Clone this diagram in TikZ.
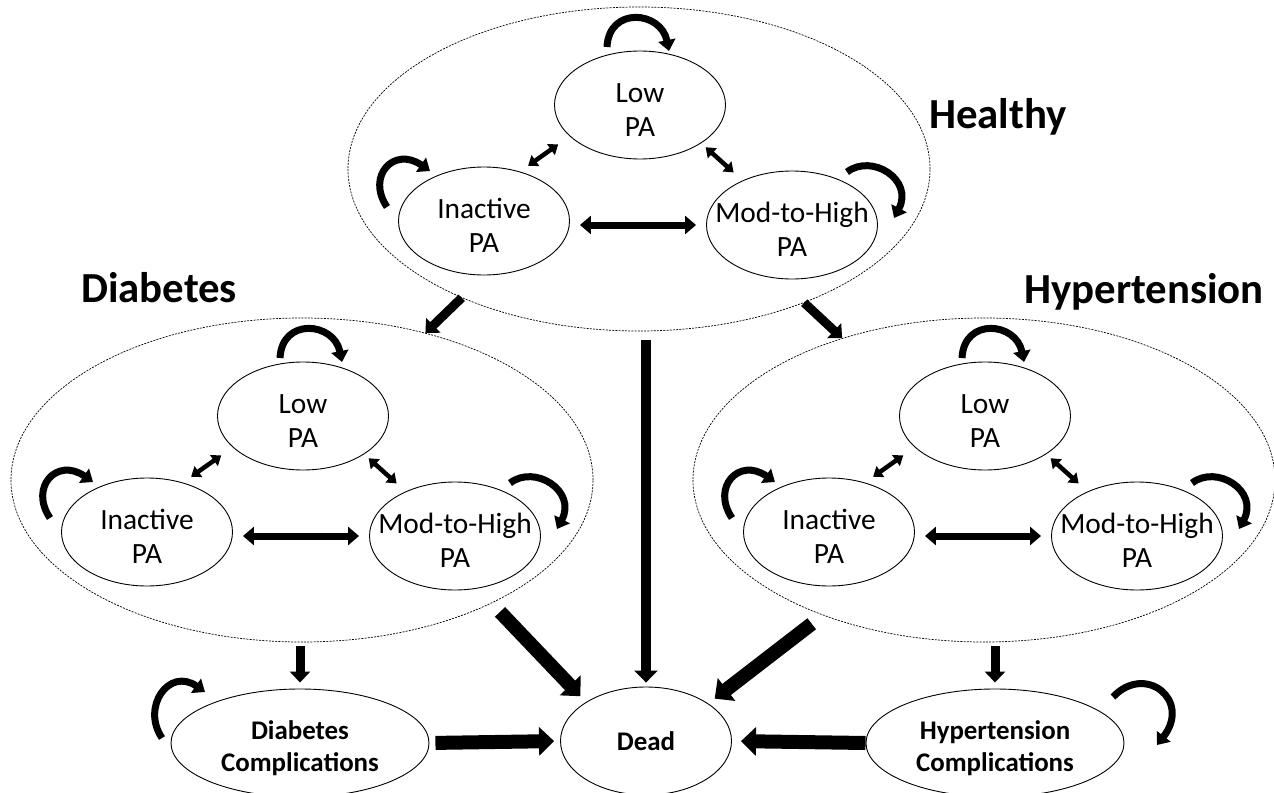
\documentclass[tikz,border=0pt]{standalone}
\usepackage{fontspec}
\setmainfont{Carlito}
\usetikzlibrary{arrows.meta,shapes.geometric}
\newcommand{\tallrow}{\rule{0pt}{29bp}}

\begin{document}
\begin{tikzpicture}[x=1bp, y=-1bp,
  pa/.style={draw, ellipse, line width=0.9bp, minimum width=171bp, minimum height=108bp, inner xsep=-20bp, inner ysep=0pt, align=center, font=\fontsize{29.5}{35}\selectfont},
  endst/.style={pa, minimum width=258bp, font=\fontsize{27}{32.5}\selectfont\bfseries},
  grp/.style={draw, ellipse, line width=0.7bp, dash pattern=on 2bp off 1.2bp, minimum width=582bp, minimum height=324bp},
  ttl/.style={font=\fontsize{43}{50}\selectfont\bfseries, anchor=base, inner sep=0pt},
  selfarr/.style={-{Triangle[width=17bp,length=11bp]}, line width=7bp},
  twoway/.style={{Triangle[width=13bp,length=9bp]}-{Triangle[width=13bp,length=9bp]}, line width=4.5bp},
  twowaybig/.style={{Triangle[width=18bp,length=11bp]}-{Triangle[width=18bp,length=11bp]}, line width=7bp},
  moveto/.style={-{Triangle[width=20bp,length=11bp]}, line width=9bp},
  todead/.style={-{Triangle[width=28bp,length=15bp]}, line width=14bp}]
  \useasboundingbox (0,0) rectangle (1274,793);

  % the three PA clusters
  \foreach \cl/\cx/\cy/\ls in {hea/640/105/-10, dia/303/416/0, hyp/985/416/0}{
    \node[grp] (\cl-box) at ({\cx-1},{\cy+64}) {};
    \node[pa] (\cl-low) at (\cx,\cy)             {\tallrow Low\\PA};
    \node[pa] (\cl-ina) at ({\cx-156},{\cy+116}) {\tallrow Inactive\\PA};
    \node[pa] (\cl-mod) at ({\cx+152},{\cy+120}) {\tallrow Mod-to-High\\PA};
    \draw[twoway, shorten <=10bp, shorten >=14bp] (\cl-ina.54) -- (\cl-low.204);
    \draw[twoway, shorten <=6bp, shorten >=12bp] (\cl-low.-32) -- (\cl-mod.138);
    \draw[twowaybig, shorten <=10bp, shorten >=10bp] (\cl-ina.east |- \cl-mod) -- (\cl-mod.west);
    \draw[selfarr] ([shift={({\ls-23},-58)}]\cl-low.center) .. controls +(2,-41) and +(-8,-40) .. ([shift={({\ls+39},-54)}]\cl-low.center);
    \draw[selfarr] ([shift={(-97,-14)}]\cl-ina.center) .. controls +(-21,-31) and +(-36,-25) .. ([shift={(-54,-50)}]\cl-ina.center);
    \draw[selfarr] ([shift={(55,-53)}]\cl-mod.center) .. controls +(25,-19) and +(20,-38) .. ([shift={(102,-7)}]\cl-mod.center);
  }

  \node[ttl] (hea-ttl) at (998,128)  {Healthy};
  \node[ttl] (dia-ttl) at (159,302)  {Diabetes};
  \node[ttl] (hyp-ttl) at (1144,303) {Hypertension};

  % absorbing states
  \node[endst] (dia-comp) at (300,743) {\tallrow Diabetes\\Complications};
  \node[endst, minimum width=171bp] (dead) at (646,741) {Dead};
  \node[endst] (hyp-comp) at (995,743) {\tallrow Hypertension\\Complications};

  \draw[moveto] (hea-box.216) -- (dia-box.50);
  \draw[moveto] (hea-box.321) -- (hyp-box.135);
  \draw[moveto, line width=10bp, -{Triangle[width=23bp,length=12bp]}, shorten <=9bp, shorten >=4bp] (hea-box.south -| dead.north) -- (dead.north);
  \draw[todead, shorten <=12bp, shorten >=8bp] (dia-box.327) -- (dead.147);
  \draw[todead, shorten <=14bp, shorten >=8bp] (hyp-box.220) -- (dead.31);
  \draw[moveto, shorten <=4bp, shorten >=6bp] (dia-box.south -| dia-comp.north) -- (dia-comp.north);
  \draw[moveto, shorten <=4bp, shorten >=6bp] (hyp-box.south -| hyp-comp.north) -- (hyp-comp.north);
  \draw[todead, shorten <=6bp, shorten >=6bp] (dia-comp.east) -- (dead.west);
  \draw[todead, shorten >=9bp] (hyp-comp.west) -- (dead.east);
  \draw[selfarr] ([shift={(-138,-5)}]dia-comp.center) .. controls +(-21,-31) and +(-36,-25) .. ([shift={(-95,-51)}]dia-comp.center);
  \draw[selfarr] ([shift={(118,-46)}]hyp-comp.center) .. controls +(32,-34) and +(35,-45) .. ([shift={(162,2)}]hyp-comp.center);
\end{tikzpicture}
\end{document}
